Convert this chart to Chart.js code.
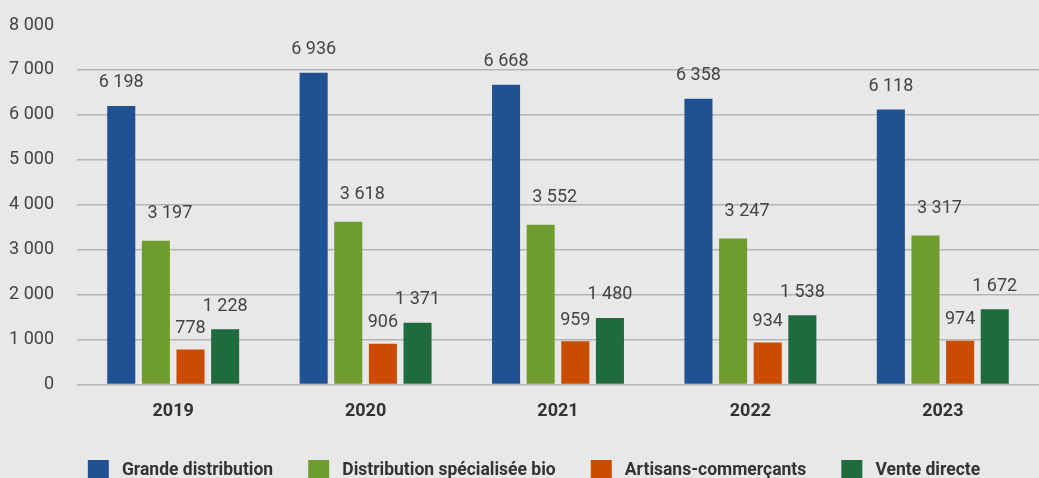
<!DOCTYPE html>
<html lang="fr">
<head>
<meta charset="utf-8">
<script src="https://cdn.jsdelivr.net/npm/chart.js@4.4.1/dist/chart.umd.min.js"></script>
<style>
  html, body { margin: 0; padding: 0; background: #e7e8e7; overflow: hidden; }
  /* a bit taller than the window: the legend is cut at the bottom in the original */
  #wrap { position: relative; width: 1039px; height: 491px; }
</style>
</head>
<body>
<div id="wrap"><canvas id="chart"></canvas></div>
<script>
// data
const years = ['2019', '2020', '2021', '2022', '2023']
const grandeDistribution = [6198, 6936, 6668, 6358, 6118]
const distributionBio = [3197, 3618, 3552, 3247, 3317]
const artisans = [778, 906, 959, 934, 974]
const venteDirecte = [1228, 1371, 1480, 1538, 1672]
const yTicks = [0, 1000, 2000, 3000, 4000, 5000, 6000, 7000, 8000]

const seriesNames = ['Grande distribution', 'Distribution spécialisée bio', 'Artisans-commerçants', 'Vente directe']
const colors = ['#1f5193', '#6f9c2f', '#c94c00', '#1f6b3d']

// label nudges (px) per series, the original puts them a bit off
const labelDx = [0, 14, 0, 0]
const labelDy = [23, 27, 21, 23]

function fmt(v) {
  return String(v).replace(/\B(?=(\d{3})+(?!\d))/g, ' ')
}

const valueLabels = {
  id: 'valueLabels',
  afterDatasetsDraw(chart) {
    const ctx = chart.ctx
    ctx.save()
    ctx.font = '18px Roboto'
    ctx.fillStyle = '#444'
    ctx.textAlign = 'center'
    ctx.textBaseline = 'middle'
    chart.data.datasets.forEach((ds, i) => {
      chart.getDatasetMeta(i).data.forEach((bar, j) => {
        ctx.fillText(fmt(ds.data[j]), bar.x + labelDx[i], bar.y - labelDy[i])
      })
    })
    ctx.restore()
  }
}

// the legend sits a little right of centre in the original
const nudgeLegend = {
  id: 'nudgeLegend',
  afterLayout(chart) {
    chart.legend.left += 17
    chart.legend.right += 17
  }
}

const allSeries = [grandeDistribution, distributionBio, artisans, venteDirecte]

new Chart(document.getElementById('chart'), {
  type: 'bar',
  data: {
    labels: years,
    datasets: allSeries.map((d, i) => ({
      label: seriesNames[i],
      data: d,
      backgroundColor: colors[i],
      borderWidth: 0,
      categoryPercentage: 0.72,
      barPercentage: 0.81
    }))
  },
  options: {
    responsive: true,
    maintainAspectRatio: false,
    animation: false,
    layout: { padding: { left: 8, top: 25, right: 0, bottom: 0 } },
    plugins: {
      tooltip: { enabled: false },
      legend: {
        position: 'bottom',
        labels: {
          boxWidth: 21,
          boxHeight: 21,
          padding: 22,
          color: '#333',
          font: { family: 'Roboto', size: 17.5, weight: 'bold' },
          generateLabels(chart) {
            // extra spaces widen the gaps like in the original
            return Chart.defaults.plugins.legend.labels.generateLabels(chart).map(l => {
              l.text = ' ' + l.text + '   '
              l.lineWidth = 0
              return l
            })
          }
        }
      }
    },
    scales: {
      x: {
        grid: { display: false, drawTicks: false },
        border: { display: false },
        ticks: {
          padding: 16,
          color: '#333',
          font: { family: 'Roboto', size: 18, weight: 'bold' }
        }
      },
      y: {
        min: 0,
        max: 8000,
        border: { display: false },
        afterFit: axis => { axis.width = 69 },
        grid: {
          drawTicks: true,
          tickLength: 20,
          tickColor: 'rgba(0,0,0,0)',
          lineWidth: 1.5,
          color: c => (c.tick && c.tick.value === 8000) ? 'rgba(0,0,0,0)' : '#b4b4b4'
        },
        afterBuildTicks: axis => { axis.ticks = yTicks.map(v => ({ value: v })) },
        ticks: {
          padding: 3,
          color: '#444',
          font: { family: 'Roboto', size: 18 },
          callback: v => fmt(v)
        }
      }
    }
  },
  plugins: [valueLabels, nudgeLegend]
})
</script>
</body>
</html>
